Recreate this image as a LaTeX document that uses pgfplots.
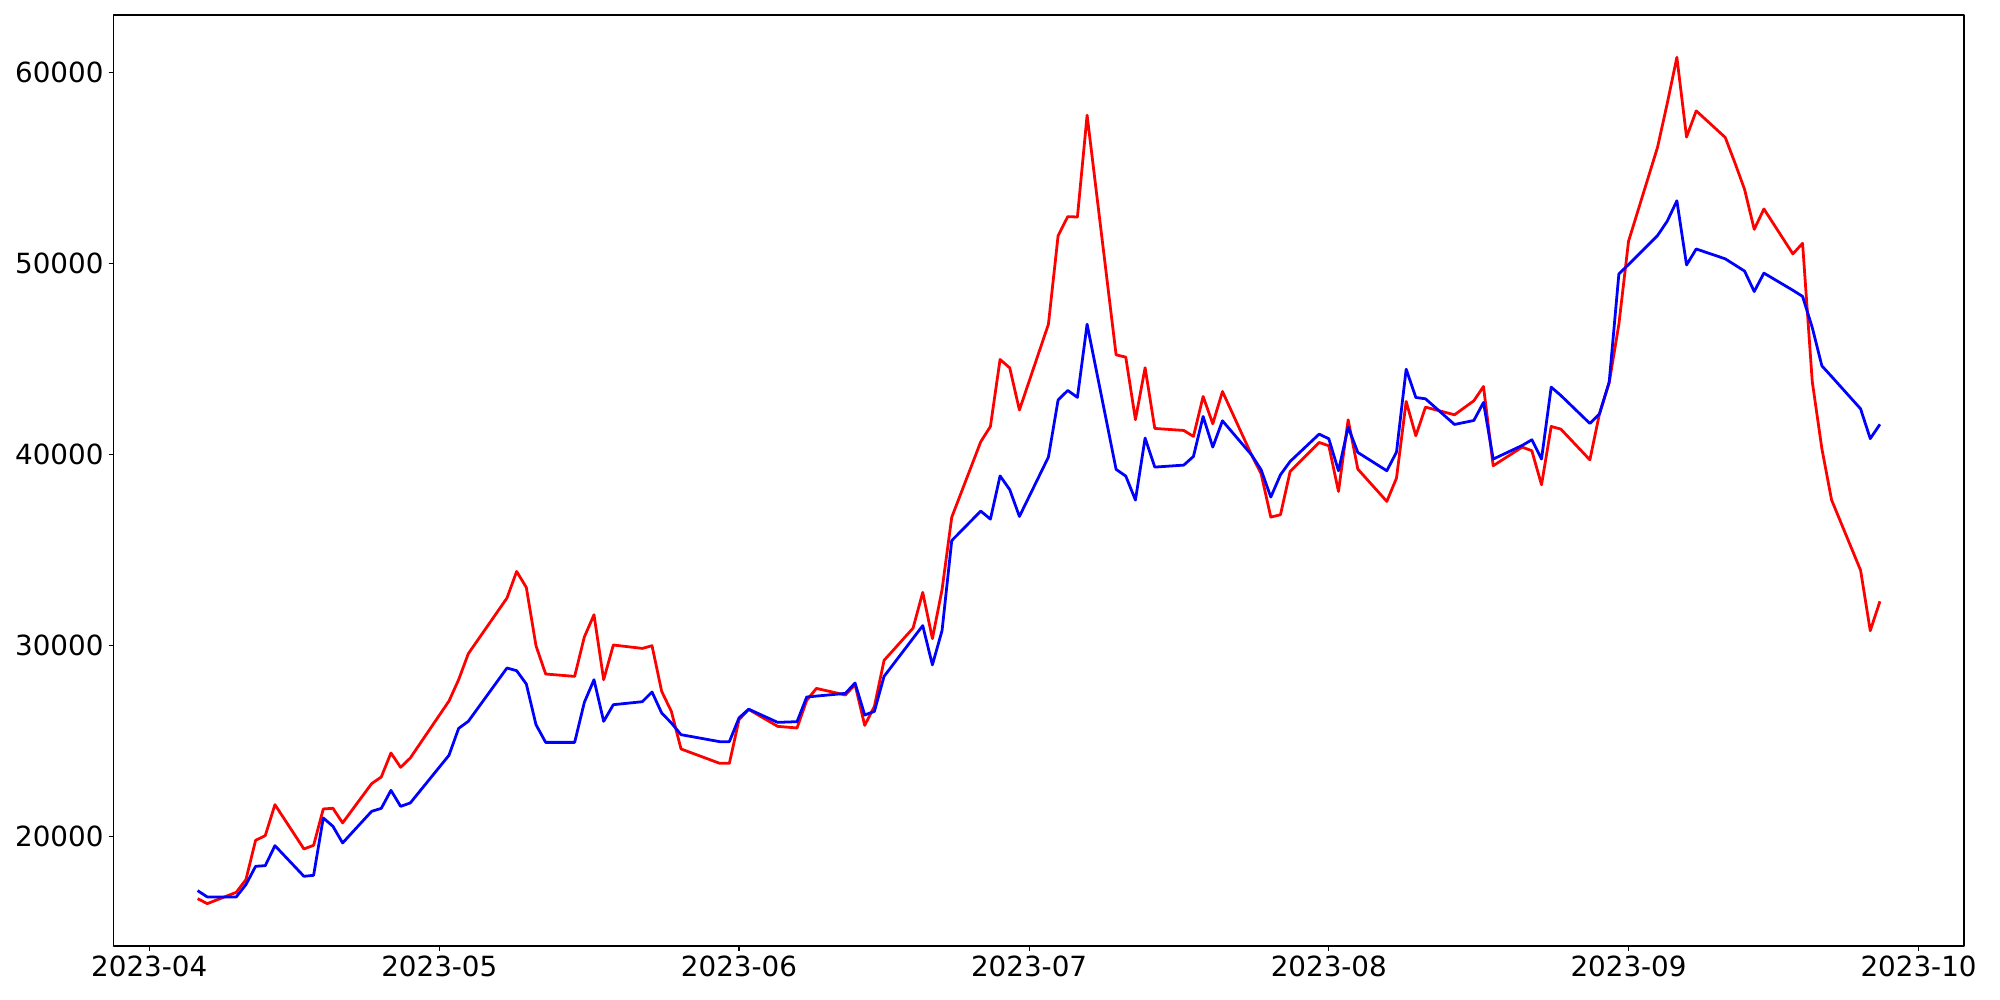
\documentclass[border=0pt]{standalone}
\usepackage{fontspec}
\setmainfont{DejaVu Sans}
\usepackage{pgfplots}
\pgfplotsset{compat=1.18}
\usepackage{pgfplotstable}
\pgfplotstableread{
d v
5 16746
6 16483
9 17076
10 17741
11 19798
12 20044
13 21666
16 19346
17 19536
18 21441
19 21476
20 20709
23 22766
24 23116
25 24372
26 23619
27 24111
31 27090
32 28209
33 29570
37 32485
38 33877
39 33040
40 29988
41 28507
44 28382
45 30444
46 31611
47 28209
48 30025
51 29847
52 29988
53 27597
54 26550
55 24582
59 23830
60 23830
61 26115
62 26650
65 25765
67 25681
68 27125
69 27753
72 27408
73 27950
74 25817
75 26811
76 29219
79 30910
80 32780
81 30360
82 32930
83 36716
86 40666
87 41468
88 44976
89 44535
90 42330
93 46821
94 51453
95 52455
96 52435
97 57768
100 45218
101 45097
102 41823
103 44545
104 41364
107 41259
108 40945
109 43039
110 41608
111 43300
114 39985
115 38991
116 36723
117 36845
118 39113
121 40631
122 40456
123 38066
124 41817
125 39235
128 37543
129 38764
130 42777
131 40980
132 42480
135 42079
137 42812
138 43562
139 39410
142 40387
143 40195
144 38415
145 41468
146 41329
149 39720
150 42150
151 43760
152 46822
153 51166
156 56088
157 58378
158 60796
159 56623
160 57993
163 56602
164 55275
165 53884
166 51787
167 52857
170 50503
171 51059
172 43826
173 40295
174 37620
177 33939
178 30772
179 32313
}\redtab
\pgfplotstableread{
d v
5 17165
6 16835
9 16835
10 17479
11 18437
12 18472
13 19520
16 17914
17 17966
18 20970
19 20531
20 19660
23 21316
24 21473
25 22415
26 21577
27 21755
31 24250
32 25660
33 26028
37 28821
38 28680
39 27984
40 25854
41 24927
44 24927
45 27021
46 28209
47 26028
48 26900
51 27057
52 27565
53 26466
54 25943
55 25330
59 24964
60 24964
61 26210
62 26665
65 25974
67 26011
68 27303
72 27492
73 28036
74 26361
75 26550
76 28382
80 31040
81 28985
82 30785
83 35493
86 37037
87 36616
88 38881
89 38159
90 36756
93 39864
94 42851
95 43352
96 42992
97 46821
100 39220
101 38870
102 37615
103 40862
104 39340
107 39445
108 39898
109 41992
110 40387
111 41765
114 39985
115 39200
116 37770
117 38939
118 39636
121 41067
122 40823
123 39148
124 41433
125 40108
128 39148
129 40125
130 44469
131 42986
132 42916
135 41573
137 41782
138 42725
139 39759
142 40474
143 40770
144 39759
145 43527
146 43091
149 41625
150 42131
151 43800
152 49454
153 49946
156 51466
157 52215
158 53285
159 49925
160 50760
163 50246
165 49604
166 48534
167 49497
170 48598
171 48277
172 46651
173 44639
174 44083
177 42392
178 40830
179 41579
}\bluetab
\begin{document}
\begin{tikzpicture}
\begin{axis}[
  scale only axis,
  width=1332.4pt, height=670.3pt,
  xmin=-3.7, xmax=187.7,
  ymin=14267, ymax=63012,
  axis line style={line width=0.8pt},
  tick align=outside,
  tick pos=left,
  major tick length=3.5pt,
  every tick/.style={black, line width=0.8pt},
  xtick={0,30,61,91,122,153,183},
  xticklabels={2023-04,2023-05,2023-06,2023-07,2023-08,2023-09,2023-10},
  ytick={20000,30000,40000,50000,60000},
  /pgf/number format/assume math mode=true,
  /pgf/number format/set thousands separator={},
  /pgf/number format/fixed,
  scaled y ticks=false,
  tick label style={font=\fontsize{20}{24}\selectfont, inner sep=0pt},
  xticklabel shift=3.5pt,
  yticklabel shift=3.5pt,
  line join=round,
]
\addplot[color=red, line width=2pt, mark=none] table[x=d, y=v] {\redtab};
\addplot[color=blue, line width=2pt, mark=none] table[x=d, y=v] {\bluetab};
\end{axis}
\path (current axis.south west) ++(-81.7pt,-38.9pt) coordinate (BBa);
\path (current axis.north east) ++(25.9pt,10.8pt) coordinate (BBb);
\pgfresetboundingbox
\useasboundingbox (BBa) rectangle (BBb);
\end{tikzpicture}
\end{document}
